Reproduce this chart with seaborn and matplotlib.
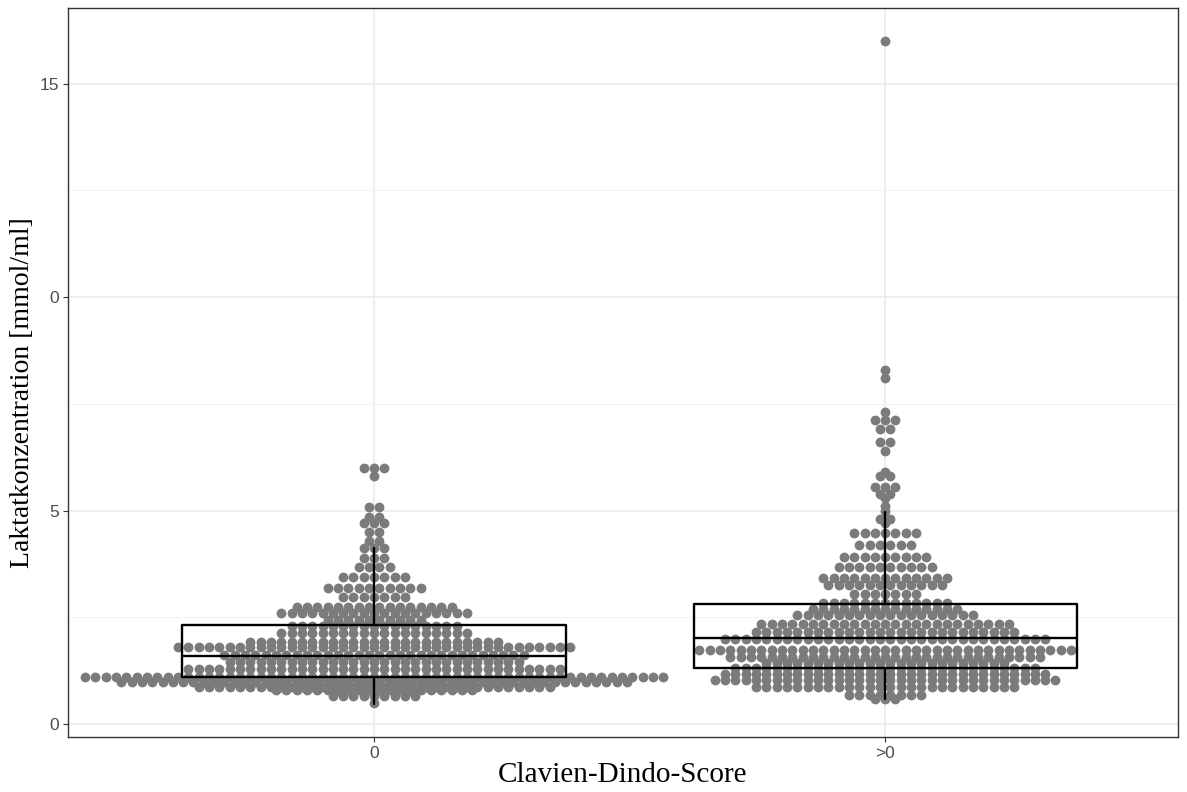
import numpy as np
import pandas as pd
import matplotlib.pyplot as plt
import seaborn as sns

# categories on the x axis
groups = ['0', '>0']

# dot rows: binned lactate value and number of dots in that row
vals_0 = [0.5, 0.65, 0.8, 0.87, 1.0, 1.1, 1.3, 1.45, 1.62, 1.8, 1.92, 2.13, 2.3,
          2.45, 2.6, 2.75, 2.97, 3.2, 3.45, 3.68, 3.88, 4.12, 4.3, 4.5, 4.7,
          4.85, 5.08, 5.8, 6.0]
cnt_0 = [1, 9, 20, 35, 50, 57, 37, 29, 30, 39, 25, 19, 17,
         10, 19, 16, 7, 10, 7, 4, 3, 3, 2, 2, 3,
         2, 2, 1, 3]

vals_1 = [0.6, 0.68, 0.87, 1.03, 1.17, 1.31, 1.43, 1.57, 1.73, 2.0, 2.15, 2.35,
          2.55, 2.7, 2.83, 3.06, 3.25, 3.42, 3.68, 3.92, 4.2, 4.48, 4.7, 4.8,
          5.0, 5.1, 5.3, 5.4, 5.55, 5.8, 5.9, 6.4, 6.6, 6.9, 7.12, 7.3, 8.1,
          8.3, 16.0]
cnt_1 = [3, 8, 26, 34, 32, 30, 24, 31, 37, 32, 26, 25,
         18, 15, 13, 7, 12, 13, 10, 9, 6, 7, 1, 2,
         1, 1, 1, 2, 3, 2, 1, 1, 2, 2, 3, 1, 1,
         1, 1]

# box statistics (whisker low, Q1, median, Q3, whisker high)
box_0 = [0.48, 1.1, 1.6, 2.32, 4.12]
box_1 = [0.6, 1.31, 2.01, 2.81, 4.96]

# dotplot layout: dots of one row stacked side by side, centred on the group
step = 0.0202
rows = []
for pos, (vals, cnts) in enumerate([(vals_0, cnt_0), (vals_1, cnt_1)]):
    for v, n in zip(vals, cnts):
        off = (np.arange(n) - (n - 1) / 2) * step
        for o in off:
            rows.append({'x': pos + o, 'lactate': v})
df = pd.DataFrame(rows)

sns.set_theme(style='white')
plt.rcParams['font.family'] = ['Liberation Sans', 'DejaVu Sans']

fig = plt.figure(figsize=(11.87, 7.92), dpi=100)
ax = fig.add_axes([0.0573, 0.0694, 0.9351, 0.9206])

sns.scatterplot(data=df, x='x', y='lactate', color='#7b7b7b', s=50,
                linewidth=0, ax=ax, zorder=2, legend=False)

stats = []
for b in (box_0, box_1):
    stats.append(dict(whislo=b[0], q1=b[1], med=b[2], q3=b[3], whishi=b[4],
                      fliers=[]))
lp = dict(color='black', linewidth=1.7, zorder=3)
ax.bxp(stats, positions=[0, 1], widths=0.75, showcaps=False,
       showfliers=False, boxprops=lp, medianprops=lp, whiskerprops=lp,
       manage_ticks=False)

ax.set_xlim(-0.599, 1.573)
ax.set_ylim(-0.3, 16.77)
ax.set_xticks([0, 1])
ax.set_xticklabels(groups)
ax.set_yticks([0, 5, 10, 15])
ax.set_yticklabels(['0', '5', '0', '15'])
ax.set_yticks([2.5, 7.5, 12.5], minor=True)

ax.set_axisbelow(True)
ax.grid(which='major', color='#EBEBEB', linewidth=1.2, zorder=0)
ax.grid(which='minor', axis='y', color='#F2F2F2', linewidth=0.7, zorder=0)
ax.tick_params(axis='both', which='major', direction='out', length=3.5,
               width=0.8, color='#333333', labelcolor='#4D4D4D',
               labelsize=12.5, bottom=True, left=True, pad=3)
ax.tick_params(axis='y', which='minor', length=0)
for sp in ax.spines.values():
    sp.set_color('#333333')
    sp.set_linewidth(1.0)

ax.set_xlabel('Clavien-Dindo-Score', family='Liberation Serif',
              fontsize=21, color='black', labelpad=1)
ax.set_ylabel('Laktatkonzentration [mmol/ml]', family='Liberation Serif',
              fontsize=20, color='black')
ax.yaxis.set_label_coords(-0.0297, 0.473)

fig.savefig('out.png', dpi=100)
